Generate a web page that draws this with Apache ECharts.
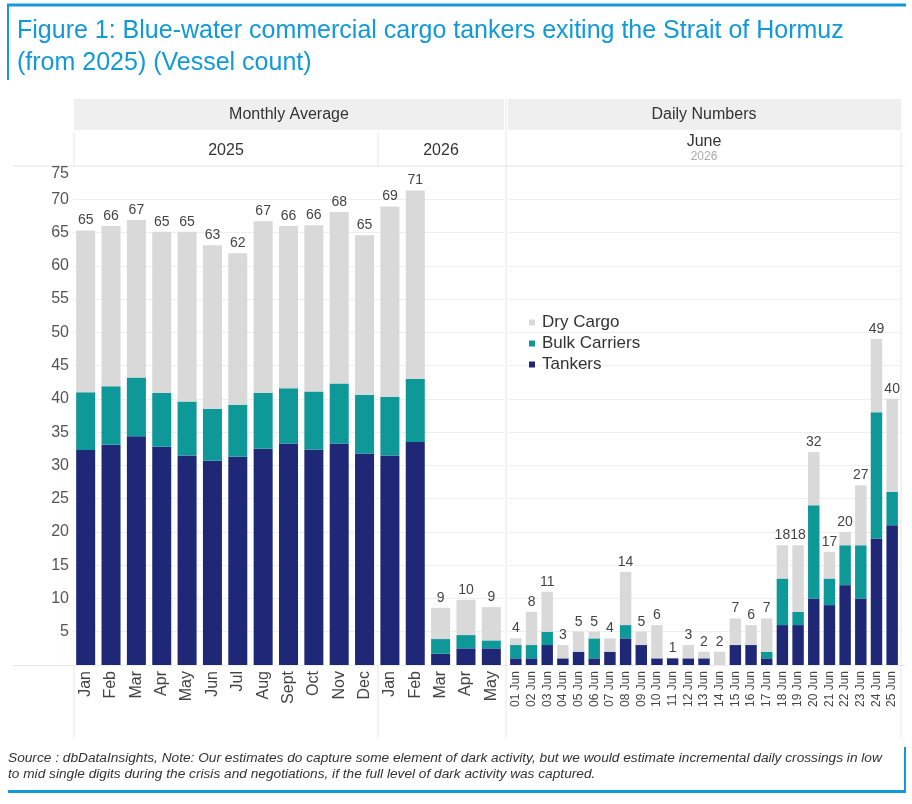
<!DOCTYPE html>
<html>
<head>
<meta charset="utf-8">
<script src="https://cdn.jsdelivr.net/npm/echarts@6/dist/echarts.min.js"></script>
<style>
html,body{margin:0;padding:0;background:#fff;}
#chart{width:912px;height:804px;}
</style>
</head>
<body>
<div id="chart"></div>
<script>
// ---- data ----
const monthCats = ['Jan','Feb','Mar','Apr','May','Jun','Jul','Aug','Sept','Oct','Nov','Dec','Jan','Feb','Mar','Apr','May'];
const monthTankers = [32.3,33.1,34.4,32.8,31.5,30.7,31.3,32.5,33.3,32.4,33.3,31.8,31.5,33.5,1.7,2.5,2.5];
const monthBulk    = [8.7,8.8,8.8,8.1,8.1,7.8,7.8,8.4,8.3,8.7,9.0,8.8,8.8,9.5,2.2,2.0,1.2];
const monthDry     = [24.3,24.1,23.7,24.2,25.5,24.6,22.8,25.8,24.4,25.0,25.8,24.0,28.6,28.3,4.7,5.3,5.0];

const dayCats = ['01 Jun','02 Jun','03 Jun','04 Jun','05 Jun','06 Jun','07 Jun','08 Jun','09 Jun','10 Jun','11 Jun','12 Jun','13 Jun','14 Jun','15 Jun','16 Jun','17 Jun','18 Jun','19 Jun','20 Jun','21 Jun','22 Jun','23 Jun','24 Jun','25 Jun'];
const dayTankers = [1,1,3,1,2,1,2,4,3,1,1,1,1,0,3,3,1,6,6,10,9,12,10,19,21];
const dayBulk    = [2,2,2,0,0,3,0,2,0,0,0,0,0,0,0,0,1,7,2,14,4,6,8,19,5];
const dayDry     = [1,5,6,2,3,1,2,8,2,5,0,2,1,2,4,3,5,5,10,8,4,2,9,11,14];

const yTicks = {min:0, max:75, interval:5};

const titleLines = ['Figure 1: Blue-water commercial cargo tankers exiting the Strait of Hormuz','(from 2025) (Vessel count)'];
const noteLines = ['Source : dbDataInsights, Note: Our estimates do capture some element of dark activity, but we would estimate incremental daily crossings in low','to mid single digits during the crisis and negotiations, if the full level of dark activity was captured.'];

// ---- styles ----
const C_TANK = '#1e2877', C_BULK = '#0e9897', C_DRY = '#d9d9d9';
const BLUE = '#1199d8';
const FONT = "'Liberation Sans', Arial, sans-serif";

const mTotal = monthTankers.map((v,i)=>v+monthBulk[i]+monthDry[i]);
const dTotal = dayTankers.map((v,i)=>v+dayBulk[i]+dayDry[i]);

const chart = echarts.init(document.getElementById('chart'), null, {renderer:'canvas'});

function yAxisCfg(idx, showLabels){
  return {
    type:'value', gridIndex:idx, min:yTicks.min, max:yTicks.max, interval:yTicks.interval,
    axisLine:{show:false}, axisTick:{show:false},
    splitLine:{show:true, lineStyle:{color:'#eeeeee', width:1}},
    axisLabel:{show:showLabels, color:'#555', fontSize:16, fontFamily:FONT, margin:4,
      formatter:function(v){ if(v===0) return ''; if(v===75) return '{t|75}'; return String(v);},
      rich:{t:{color:'#555', fontSize:16, fontFamily:FONT, padding:[16,0,0,0]}}
    }
  };
}
function xAxisCfg(idx, data, fs){
  return {
    type:'category', gridIndex:idx, data:data,
    axisLine:{show:false}, axisTick:{show:false}, splitLine:{show:false},
    axisLabel:{rotate:90, interval:0, color:'#444', fontSize:fs, fontFamily:FONT, margin:6}
  };
}

const lineStyleGray = {stroke:'#e6e6e6', lineWidth:1};

const option = {
  animation:false,
  backgroundColor:'#fff',
  textStyle:{fontFamily:FONT},
  grid:[
    {left:73, right:408, top:166, bottom:139},
    {left:508, right:12, top:166, bottom:139}
  ],
  xAxis:[ xAxisCfg(0, monthCats, 16), xAxisCfg(1, dayCats, 12) ],
  yAxis:[ yAxisCfg(0, true), yAxisCfg(1, false) ],
  legend:{
    orient:'vertical', left:524, top:309, itemWidth:6, itemHeight:6, itemGap:4,
    icon:'rect', data:['Dry Cargo','Bulk Carriers','Tankers'],
    textStyle:{fontSize:17, color:'#333', fontFamily:FONT, padding:[0,0,0,2]}
  },
  series:[
    {name:'Tankers', type:'bar', xAxisIndex:0, yAxisIndex:0, stack:'m', barWidth:'75%', data:monthTankers, itemStyle:{color:C_TANK}},
    {name:'Bulk Carriers', type:'bar', xAxisIndex:0, yAxisIndex:0, stack:'m', data:monthBulk, itemStyle:{color:C_BULK}},
    {name:'Dry Cargo', type:'bar', xAxisIndex:0, yAxisIndex:0, stack:'m', data:monthDry, itemStyle:{color:C_DRY},
      label:{show:true, position:'top', distance:3, color:'#444', fontSize:14, fontFamily:FONT,
        formatter:function(p){return String(Math.round(mTotal[p.dataIndex]));}}},
    {name:'Tankers', type:'bar', xAxisIndex:1, yAxisIndex:1, stack:'d', barWidth:'73%', data:dayTankers, itemStyle:{color:C_TANK}},
    {name:'Bulk Carriers', type:'bar', xAxisIndex:1, yAxisIndex:1, stack:'d', data:dayBulk, itemStyle:{color:C_BULK}},
    {name:'Dry Cargo', type:'bar', xAxisIndex:1, yAxisIndex:1, stack:'d', data:dayDry, itemStyle:{color:C_DRY},
      label:{show:true, position:'top', distance:3, color:'#444', fontSize:14, fontFamily:FONT,
        formatter:function(p){return String(dTotal[p.dataIndex]);}}}
  ],
  graphic:[
    // frame top / left
    {type:'line', shape:{x1:7, y1:5, x2:906, y2:5}, style:{stroke:BLUE, lineWidth:3}},
    {type:'line', shape:{x1:8, y1:4, x2:8, y2:80}, style:{stroke:BLUE, lineWidth:2}},
    {type:'text', x:17, y:31, style:{text:titleLines[0], font:"25px "+FONT, fill:BLUE, verticalAlign:'middle'}},
    {type:'text', x:17, y:63, style:{text:titleLines[1], font:"25px "+FONT, fill:BLUE, verticalAlign:'middle'}},
    // header bands
    {type:'rect', shape:{x:74, y:99, width:430, height:31}, style:{fill:'#efefef'}},
    {type:'rect', shape:{x:508, y:99, width:393, height:31}, style:{fill:'#efefef'}},
    {type:'text', x:289, y:115, style:{text:'Monthly Average', font:"16px "+FONT, fill:'#333', align:'center', verticalAlign:'middle'}},
    {type:'text', x:704, y:115, style:{text:'Daily Numbers', font:"16px "+FONT, fill:'#333', align:'center', verticalAlign:'middle'}},
    {type:'text', x:226, y:151, style:{text:'2025', font:"16px "+FONT, fill:'#333', align:'center', verticalAlign:'middle'}},
    {type:'text', x:441, y:151, style:{text:'2026', font:"16px "+FONT, fill:'#333', align:'center', verticalAlign:'middle'}},
    {type:'text', x:704, y:142, style:{text:'June', font:"16px "+FONT, fill:'#333', align:'center', verticalAlign:'middle'}},
    {type:'text', x:704, y:157, style:{text:'2026', font:"12px "+FONT, fill:'#aaa', align:'center', verticalAlign:'middle'}},
    // separators
    {type:'line', shape:{x1:13, y1:166, x2:905, y2:166}, style:lineStyleGray},
    {type:'line', shape:{x1:13, y1:665.5, x2:905, y2:665.5}, style:lineStyleGray},
    {type:'line', shape:{x1:74, y1:133, x2:74, y2:166}, style:lineStyleGray},
    {type:'line', shape:{x1:74, y1:665, x2:74, y2:738}, style:lineStyleGray},
    {type:'line', shape:{x1:378, y1:133, x2:378, y2:166}, style:lineStyleGray},
    {type:'line', shape:{x1:378, y1:665, x2:378, y2:738}, style:lineStyleGray},
    {type:'line', shape:{x1:506, y1:99, x2:506, y2:738}, style:lineStyleGray},
    {type:'line', shape:{x1:901, y1:133, x2:901, y2:738}, style:lineStyleGray},
    // footer
    {type:'text', x:8, y:758, style:{text:noteLines[0], font:"italic 13.7px "+FONT, fill:'#333', verticalAlign:'middle'}},
    {type:'text', x:8, y:774, style:{text:noteLines[1], font:"italic 13.7px "+FONT, fill:'#333', verticalAlign:'middle'}},
    {type:'line', shape:{x1:905, y1:747, x2:905, y2:793}, style:{stroke:BLUE, lineWidth:2}},
    {type:'line', shape:{x1:8, y1:791.5, x2:906, y2:791.5}, style:{stroke:BLUE, lineWidth:3}}
  ]
};
chart.setOption(option);
</script>
</body>
</html>
